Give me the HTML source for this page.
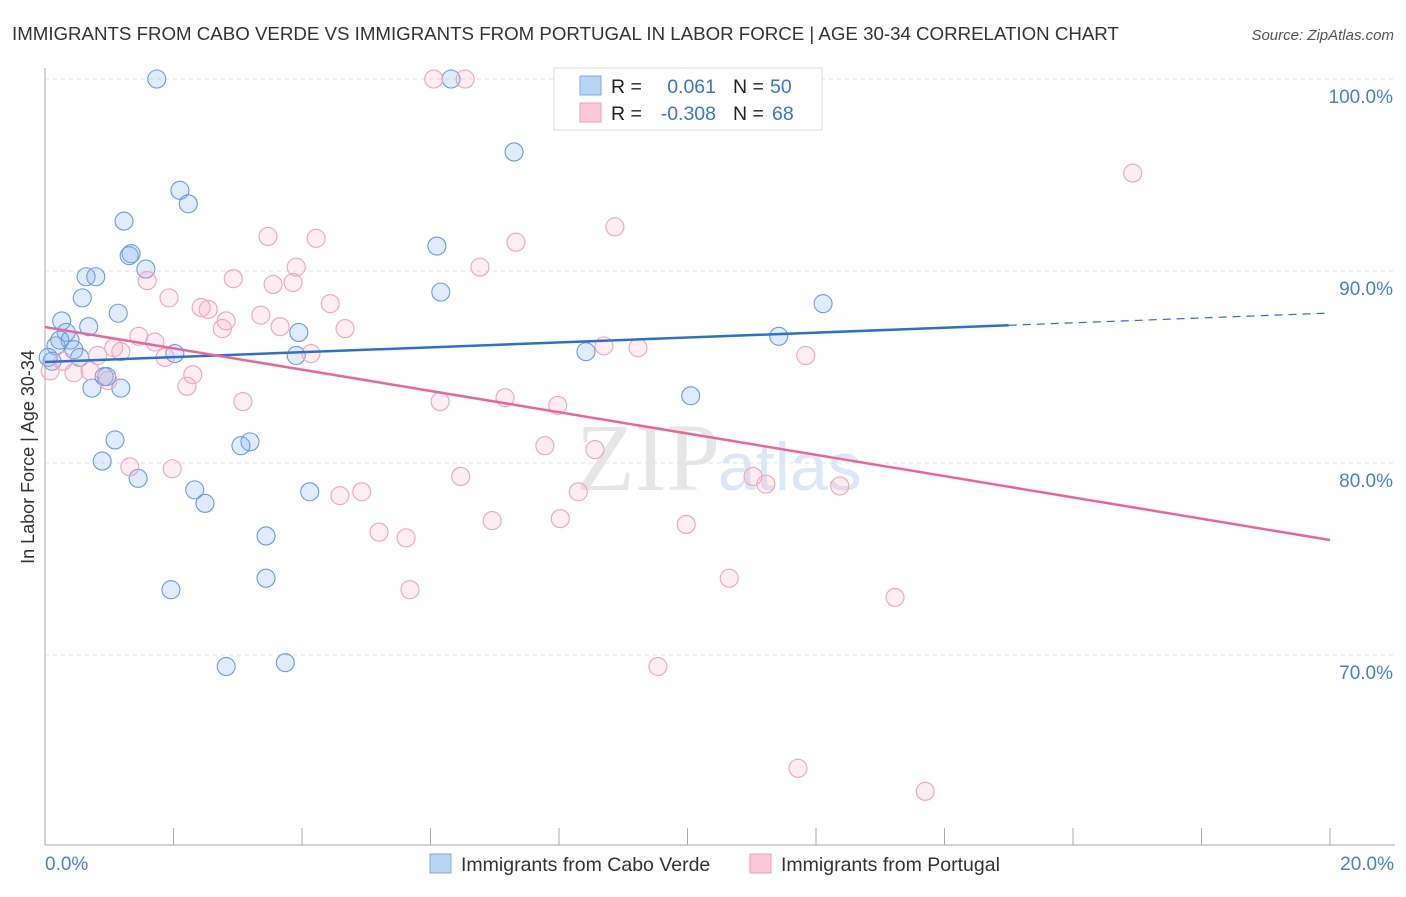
<!DOCTYPE html>
<html><head><meta charset="utf-8"><style>
body{margin:0;background:#fff;font-family:"Liberation Sans",sans-serif}
</style></head><body>
<svg width="1406" height="892" xmlns="http://www.w3.org/2000/svg" id="svg" font-family="Liberation Sans, sans-serif">
<text x="12" y="40" font-size="18.7" fill="#333">IMMIGRANTS FROM CABO VERDE VS IMMIGRANTS FROM PORTUGAL IN LABOR FORCE | AGE 30-34 CORRELATION CHART</text>
<text x="1394" y="40" font-size="15" fill="#555" font-style="italic" text-anchor="end">Source: ZipAtlas.com</text>
<text x="720" y="490" font-size="96" fill="#e6e6e6" text-anchor="end" font-family="Liberation Serif, serif">ZIP</text>
<text x="718" y="490" font-size="68" fill="#dde8f6">atlas</text>
<g id="grid"></g>
<g id="pts"></g>
<g id="lines"></g>
<text transform="translate(34,457) rotate(-90)" font-size="18" fill="#333" text-anchor="middle">In Labor Force | Age 30-34</text>
<text x="45" y="870" font-size="19" fill="#4a7fd0">0.0%</text>
<text x="1394" y="870" font-size="19" fill="#4a7fd0" text-anchor="end">20.0%</text>
<g>
<rect x="554" y="68" width="268" height="62" fill="#fff" stroke="#ddd"/>
<rect x="580" y="76" width="21" height="19" fill="#b9d3f5" stroke="#7ea8e3"/>
<rect x="580" y="103" width="21" height="19" fill="#fcc9d8" stroke="#eea0b8"/>
<text x="611" y="93" font-size="19.5" fill="#222">R =</text>
<text x="716" y="93" font-size="19.5" fill="#3a74d0" text-anchor="end">0.061</text>
<text x="733" y="93" font-size="19.5" fill="#222">N =</text>
<text x="770" y="93" font-size="19.5" fill="#3a74d0">50</text>
<text x="611" y="120" font-size="19.5" fill="#222">R =</text>
<text x="716" y="120" font-size="19.5" fill="#3a74d0" text-anchor="end">-0.308</text>
<text x="733" y="120" font-size="19.5" fill="#222">N =</text>
<text x="772" y="120" font-size="19.5" fill="#3a74d0">68</text>
</g>
<g>
<rect x="430" y="854" width="21" height="19" fill="#b9d3f5" stroke="#7ea8e3"/>
<text x="461" y="871" font-size="19.5" fill="#333">Immigrants from Cabo Verde</text>
<rect x="750" y="854" width="21" height="19" fill="#fcc9d8" stroke="#eea0b8"/>
<text x="781" y="871" font-size="19.5" fill="#333">Immigrants from Portugal</text>
</g>
</svg>
<script>
const yTicks=[100,90,80,70];
const yTickLabels=["100.0%","90.0%","80.0%","70.0%"];
const blueX=[1.74,6.32,7.30,2.10,2.23,1.23,6.10,1.34,1.31,1.57,0.64,0.79,6.16,12.11,0.58,1.14,0.26,0.68,0.33,3.95,0.39,11.42,0.17,0.45,0.05,2.02,3.91,8.42,0.54,0.92,0.96,0.73,1.18,10.05,1.09,3.19,3.05,0.89,1.45,2.33,4.12,2.49,3.44,3.44,1.96,2.82,3.74,0.11,0.23];
const blueY=[100,100,96.2,94.2,93.5,92.6,91.3,90.9,90.8,90.1,89.7,89.7,88.9,88.3,88.6,87.8,87.4,87.1,86.8,86.8,86.4,86.6,86.1,85.9,85.5,85.7,85.6,85.8,85.5,84.5,84.5,83.9,83.9,83.5,81.2,81.1,80.9,80.1,79.2,78.6,78.5,77.9,76.2,74.0,73.4,69.4,69.6,85.3,86.4];
const pinkX=[6.05,6.54,11.03,16.93,8.87,3.47,4.22,7.33,3.91,6.77,2.93,1.59,3.55,3.86,1.93,4.44,2.43,2.54,3.36,2.82,3.66,4.67,2.76,1.46,1.71,1.07,1.18,8.70,9.23,0.82,4.14,11.84,1.87,0.28,0.08,0.45,0.70,2.30,0.98,2.21,3.08,6.15,7.16,7.98,7.78,8.56,1.32,1.98,6.47,11.02,11.22,12.37,8.30,4.93,4.59,6.96,8.02,9.98,5.20,5.62,10.65,5.68,13.23,9.54,11.72,13.70];
const pinkY=[100,100,100,95.1,92.3,91.8,91.7,91.5,90.2,90.2,89.6,89.5,89.3,89.4,88.6,88.3,88.1,88.0,87.7,87.4,87.1,87.0,87.0,86.6,86.3,86.0,85.8,86.1,86.0,85.6,85.7,85.6,85.5,85.3,84.8,84.7,84.8,84.6,84.3,84.0,83.2,83.2,83.4,83.0,80.9,80.7,79.8,79.7,79.3,79.3,78.9,78.8,78.5,78.5,78.3,77.0,77.1,76.8,76.4,76.1,74.0,73.4,73.0,69.4,64.1,62.9];
const blueTrend=[85.26,87.81];
const pinkTrend=[87.08,75.99];
const NS="http://www.w3.org/2000/svg";
const sx=v=>45+v/20*1285;
const sy=v=>79+(100-v)*19.2;
function mk(t,a,p){const e=document.createElementNS(NS,t);for(const k in a)e.setAttribute(k,a[k]);p.appendChild(e);return e;}
const grid=document.getElementById('grid');
yTicks.forEach((t,i)=>{
 const l=mk('line',{x1:45,x2:1395,y1:sy(t),y2:sy(t),stroke:'#e2e2e2','stroke-dasharray':'4,4'},grid);
 
 
 const tx=mk('text',{x:1393,y:sy(t)+24,'font-size':19,fill:'#4a7fd0','text-anchor':'end'},grid);
 tx.textContent=yTickLabels[i];
 
 
});
const ax=mk('line',{x1:45,x2:45,y1:68,y2:845,stroke:'#aaa'},grid);


const bx=mk('line',{x1:45,x2:1395,y1:845,y2:845,stroke:'#aaa'},grid);


for(let i=0;i<=10;i++){const t=mk('line',{x1:sx(i*2),x2:sx(i*2),y1:828,y2:845,stroke:'#aaa'},grid);
 
 }
const pts=document.getElementById('pts');
blueX.forEach((x,i)=>{const c=mk('circle',{cx:sx(x),cy:sy(blueY[i]),r:9,fill:'rgba(130,175,240,0.25)',stroke:'#6a9be0','stroke-width':1.1},pts);
 
 });
pinkX.forEach((x,i)=>{const c=mk('circle',{cx:sx(x),cy:sy(pinkY[i]),r:9,fill:'rgba(248,165,190,0.2)',stroke:'#eea5bc','stroke-width':1.1},pts);
 
 });
const lines=document.getElementById('lines');
const by=x=>blueTrend[0]+(blueTrend[1]-blueTrend[0])*x/20;
const b1=mk('line',{x1:sx(0),y1:sy(by(0)),x2:sx(15),y2:sy(by(15)),stroke:'#2f6fd2','stroke-width':2.5},lines);


const b2=mk('line',{x1:sx(15),y1:sy(by(15)),x2:sx(20),y2:sy(by(20)),stroke:'#2f6fd2','stroke-width':1.2,'stroke-dasharray':'8,6'},lines);


const p1=mk('line',{x1:sx(0),y1:sy(pinkTrend[0]),x2:sx(20),y2:sy(pinkTrend[1]),stroke:'#e8679a','stroke-width':2.5},lines);


</script>
</body></html>
